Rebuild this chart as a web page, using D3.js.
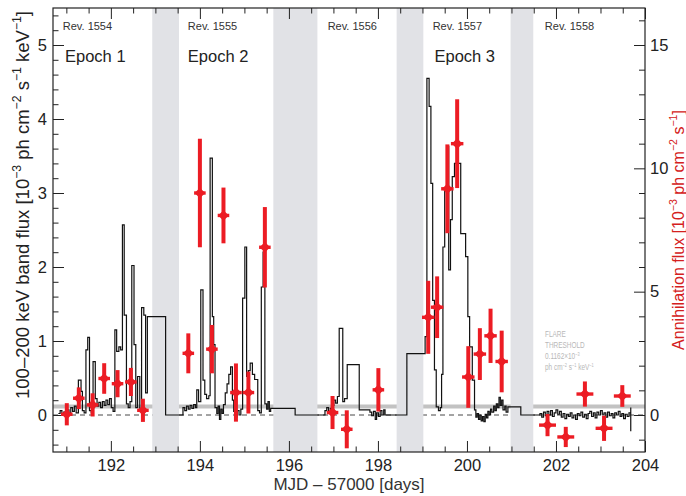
<!DOCTYPE html>
<html>
<head>
<meta charset="utf-8">
<script src="https://cdn.jsdelivr.net/npm/d3@7"></script>
<style>
  body { margin: 0; background: #fff; }
  svg { display: block; font-family: "Liberation Sans", Arial, sans-serif; }
</style>
</head>
<body>
<svg></svg>
<script>
const svgWidth = 686;
const svgHeight = 496;
const margin = {top: 8, right: 41, bottom: 44, left: 53};

// 100-200 keV light curve, [MJD-57000, flux in 1e-3 ph/cm2/s/keV], one array per revolution
const rev1554 = [
	[190.82, 0.02], [190.86, 0.06], [190.90, 0.01], [190.94, 0.04], [190.98, -0.01], [191.02, 0.07],
	[191.06, 0.03], [191.10, 0.10], [191.14, 0.05], [191.18, 0.12], [191.22, 0.03], [191.27, 0.47],
	[191.33, 0.32], [191.36, 0.06], [191.40, 0.03], [191.44, 0.88], [191.48, 1.05], [191.52, 0.06],
	[191.56, 0.03], [191.60, 0.72], [191.65, 0.22], [191.69, 0.12], [191.73, 0.17], [191.77, 0.10],
	[191.81, 0.18], [191.85, 0.13], [191.89, 0.20], [191.93, 0.14], [191.97, 0.22], [192.01, 0.10],
	[192.05, 0.05], [192.09, 1.15], [192.13, 0.86], [192.18, 0.92], [192.22, 0.88], [192.26, 2.57],
	[192.30, 1.35], [192.35, 0.15], [192.39, 0.10], [192.43, 0.18], [192.47, 2.02], [192.52, 0.95],
	[192.56, 0.10], [192.60, 0.52], [192.65, 0.06], [192.69, 1.45], [192.74, 1.35], [192.78, 0.30],
	[192.82, 1.33], [193.23, 0.0]
];
const rev1555 = [
	[193.62, 0.10], [193.66, 0.06], [193.70, 0.12], [193.74, 0.08], [193.78, 0.13], [193.82, 0.09],
	[193.86, 0.14], [193.90, 0.10], [193.93, 0.34], [193.97, 0.18], [194.02, 1.69], [194.07, 0.47],
	[194.11, 0.28], [194.15, 0.22], [194.20, 0.26], [194.23, 3.47], [194.28, 1.33], [194.31, 0.95],
	[194.34, 0.10], [194.38, 0.02], [194.41, 0.12], [194.44, -0.06], [194.47, 0.08], [194.50, 0.02],
	[194.53, 0.14], [194.57, 0.30], [194.61, 0.42], [194.65, 0.55], [194.69, 0.65], [194.73, 0.20],
	[194.76, 0.05], [194.80, -0.03], [194.84, 0.06], [194.88, 0.0], [194.92, 0.08], [194.96, 1.58],
	[195.01, 2.27], [195.05, 0.52], [195.09, 0.60], [195.13, 0.70], [195.18, 0.55], [195.23, 0.48],
	[195.30, 0.06], [195.34, 0.03], [195.38, 1.73], [195.42, 2.20], [195.46, 0.15], [195.50, 0.08],
	[195.53, 0.18], [195.56, 0.05], [195.59, 0.09], [196.14, 0.0]
];
const rev1556 = [
	[196.81, 0.06], [196.85, 0.10], [196.89, 0.04], [196.93, 0.09], [196.97, 0.13], [197.01, 0.20],
	[197.05, 0.16], [197.09, 0.25], [197.13, 1.17], [197.21, 0.18], [197.25, 0.22], [197.31, 0.68],
	[197.58, 0.07], [197.82, 0.04], [197.86, -0.01], [197.90, 0.05], [197.94, -0.06], [197.97, 0.03],
	[198.01, -0.02], [198.05, 0.06], [198.09, 0.0], [198.13, 0.07], [198.16, 0.0], [198.65, 0.83]
];
const rev1557 = [
	[199.06, 1.06], [199.10, 4.55], [199.15, 4.17], [199.19, 3.13], [199.23, 1.55], [199.27, 0.61],
	[199.31, 0.11], [199.36, 0.06], [199.40, 0.10], [199.43, 0.55], [199.46, 2.27], [199.50, 3.04],
	[199.55, 3.63], [199.59, 1.96], [199.63, 2.64], [199.67, 3.22], [199.72, 3.40], [199.86, 2.45],
	[199.97, 2.14], [200.02, 1.33], [200.06, 0.92], [200.12, 0.47], [200.17, 0.07], [200.20, -0.03],
	[200.23, 0.02], [200.26, -0.06], [200.29, 0.0], [200.32, -0.08], [200.35, -0.02], [200.38, -0.09],
	[200.41, 0.01], [200.44, -0.04], [200.47, 0.05], [200.50, 0.0], [200.53, 0.08], [200.56, 0.04],
	[200.60, 0.12], [200.63, 0.06], [200.66, 0.15], [200.69, 0.10], [200.72, 0.24], [200.75, 0.13],
	[200.78, 0.20], [200.81, 0.07], [200.85, 0.12], [200.88, 0.04], [200.92, 0.11], [201.21, 0.0]
];
const rev1558 = [
	[201.64, 0.02], [201.68, -0.03], [201.72, 0.04], [201.76, -0.01], [201.80, 0.05], [201.84, 0.0],
	[201.88, 0.06], [201.92, -0.02], [201.96, 0.03], [202.00, 0.07], [202.04, 0.01], [202.08, 0.05],
	[202.12, -0.03], [202.16, 0.02], [202.20, -0.05], [202.24, 0.01], [202.28, -0.02], [202.32, 0.03],
	[202.36, -0.04], [202.40, 0.0], [202.44, -0.06], [202.48, 0.02], [202.52, -0.01], [202.56, 0.04],
	[202.60, -0.03], [202.64, 0.01], [202.68, -0.05], [202.72, 0.02], [202.76, 0.05], [202.80, -0.02],
	[202.84, 0.03], [202.88, -0.04], [202.92, 0.04], [202.96, 0.0], [203.00, 0.06], [203.04, 0.01],
	[203.08, 0.03], [203.12, -0.03], [203.16, 0.04], [203.20, -0.01], [203.24, 0.02], [203.28, -0.04],
	[203.32, 0.03], [203.36, 0.0], [203.40, 0.05], [203.44, -0.02], [203.48, 0.02], [203.52, -0.05],
	[203.56, 0.01], [203.60, -0.02], [203.64, 0.03], [203.68, 0.10], [203.68, -0.22]
];

// annihilation line flux (right axis, 1e-3 ph/cm2/s)
const annDay     = [191.01, 191.28, 191.59, 191.85, 192.15, 192.45, 192.72, 193.74, 194.00, 194.27,
                    194.53, 194.81, 195.09, 195.46, 196.98, 197.30, 198.01, 199.13, 199.33, 199.56,
                    199.78, 200.03, 200.29, 200.53, 200.78, 201.81, 202.22, 202.65, 203.08, 203.49];
const annFlux    = [0.03, 0.68, 0.41, 1.48, 1.27, 1.34, 0.19, 2.50, 9.00, 2.67,
                    8.09, 0.91, 0.91, 6.80, 0.10, -0.58, 1.02, 3.96, 4.37, 9.17,
                    11.00, 1.54, 2.47, 3.21, 2.17, -0.41, -0.89, 0.85, -0.54, 0.77];
const annErr     = [0.45, 0.44, 0.47, 0.62, 0.55, 0.57, 0.47, 0.81, 2.20, 0.98,
                    1.13, 1.18, 0.85, 1.63, 0.67, 0.77, 0.88, 1.48, 1.25, 1.80,
                    1.80, 1.25, 1.05, 1.10, 1.25, 0.45, 0.41, 0.51, 0.51, 0.44];
const annDayErr  = [0.13, 0.13, 0.13, 0.13, 0.13, 0.13, 0.13, 0.13, 0.13, 0.13,
                    0.13, 0.13, 0.13, 0.13, 0.13, 0.13, 0.13, 0.14, 0.14, 0.14,
                    0.14, 0.14, 0.14, 0.14, 0.14, 0.19, 0.19, 0.19, 0.19, 0.19];

// perigee gaps between revolutions
const gapStart = [192.93, 195.65, 198.42, 200.98];
const gapEnd   = [193.53, 196.64, 199.02, 201.49];
const flareThreshold = 0.1162;

const revNames = ["Rev. 1554", "Rev. 1555", "Rev. 1556", "Rev. 1557", "Rev. 1558"];
const revDay = [190.92, 193.73, 196.87, 199.23, 201.75];
const epochNames = ["Epoch 1", "Epoch 2", "Epoch 3"];
const epochDay = [190.97, 193.73, 199.27];

const xTicks = [192, 194, 196, 198, 200, 202, 204];
const yLeftTicks = [0, 1, 2, 3, 4, 5];
const yRightTicks = [0, 5, 10, 15];

const svg = d3.select("svg")
	.attr("width", svgWidth)
	.attr("height", svgHeight);

const x0 = margin.left, x1 = svgWidth - margin.right;
const y0 = svgHeight - margin.bottom, y1 = margin.top;

const xScale = d3.scaleLinear().domain([190.7, 204]).range([x0, x1]);
const yScale = d3.scaleLinear().domain([-0.5, 5.5]).range([y0, y1]);
const yRight = d3.scaleLinear().domain([-1.5, 16.5]).range([y0, y1]);

const plot = svg.append("g");

// threshold band and zero line, under the gap shading
plot.append("line")
	.attr("x1", x0).attr("x2", x1)
	.attr("y1", yScale(flareThreshold)).attr("y2", yScale(flareThreshold))
	.attr("stroke", "#c2c2c2")
	.attr("stroke-width", 4);

plot.append("line")
	.attr("x1", x0).attr("x2", x1)
	.attr("y1", yScale(0)).attr("y2", yScale(0))
	.attr("stroke", "#333")
	.attr("stroke-width", 0.9)
	.attr("stroke-dasharray", "5,4");

plot.selectAll(".gap")
	.data(gapStart)
	.enter()
	.append("rect")
	.attr("x", d => xScale(d))
	.attr("width", (d, i) => xScale(gapEnd[i]) - xScale(d))
	.attr("y", y1)
	.attr("height", y0 - y1)
	.attr("fill", "#e1e2e6");

// axes
function axisGroup(axis, tx, ty) {
	let g = svg.append("g")
		.attr("transform", `translate(${tx}, ${ty})`)
		.call(axis);
	g.select(".domain").remove();
	g.selectAll("text")
		.attr("font-size", 16.5)
		.attr("font-family", "Liberation Sans, Arial, sans-serif")
		.attr("fill", "#222");
	return g;
}

const xMinor = d3.range(191, 204, 0.5).filter(v => v % 2 !== 0);
axisGroup(d3.axisBottom(xScale).tickValues(xTicks).tickFormat(d3.format("d")).tickSize(-11).tickPadding(7), 0, y0);
axisGroup(d3.axisBottom(xScale).tickValues(xMinor).tickFormat("").tickSize(-5.5), 0, y0);
axisGroup(d3.axisTop(xScale).tickValues(xTicks).tickFormat("").tickSize(-11), 0, y1);
axisGroup(d3.axisTop(xScale).tickValues(xMinor).tickFormat("").tickSize(-5.5), 0, y1);

const yMinor = d3.range(-0.4, 5.5, 0.2).filter(v => Math.abs(v - Math.round(v)) > 0.01);
axisGroup(d3.axisLeft(yScale).tickValues(yLeftTicks).tickFormat(d3.format("d")).tickSize(-11).tickPadding(6), x0, 0);
axisGroup(d3.axisLeft(yScale).tickValues(yMinor).tickFormat("").tickSize(-5.5), x0, 0);

const yRMinor = d3.range(-1, 17, 1).filter(v => v % 5 !== 0);
axisGroup(d3.axisRight(yRight).tickValues(yRightTicks).tickFormat(d3.format("d")).tickSize(-11).tickPadding(5), x1, 0);
axisGroup(d3.axisRight(yRight).tickValues(yRMinor).tickFormat("").tickSize(-6), x1, 0);

svg.selectAll("g.tick line").attr("stroke", "#222").attr("stroke-width", 1);

svg.append("rect")
	.attr("x", x0).attr("y", y1)
	.attr("width", x1 - x0).attr("height", y0 - y1)
	.attr("fill", "none")
	.attr("stroke", "#222")
	.attr("stroke-width", 1.2);

// light curve
const lightCurve = rev1554.concat(rev1555, rev1556, rev1557, rev1558);
const line = d3.line()
	.x(d => xScale(d[0]))
	.y(d => yScale(d[1]))
	.curve(d3.curveStepAfter);

svg.append("path")
	.datum(lightCurve)
	.attr("d", line)
	.attr("fill", "none")
	.attr("stroke", "#111")
	.attr("stroke-width", 1.2);

// annihilation points with error bars
const red = "#ec1c24";
const pts = svg.selectAll(".ann")
	.data(annDay)
	.enter()
	.append("g")
	.classed("ann", true);

pts.append("line")
	.attr("x1", d => xScale(d)).attr("x2", d => xScale(d))
	.attr("y1", (d, i) => yRight(annFlux[i] - annErr[i]))
	.attr("y2", (d, i) => yRight(annFlux[i] + annErr[i]))
	.attr("stroke", red)
	.attr("stroke-width", 4);

pts.append("line")
	.attr("x1", (d, i) => xScale(d - annDayErr[i]))
	.attr("x2", (d, i) => xScale(d + annDayErr[i]))
	.attr("y1", (d, i) => yRight(annFlux[i]))
	.attr("y2", (d, i) => yRight(annFlux[i]))
	.attr("stroke", red)
	.attr("stroke-width", 3.4);

pts.append("path")
	.attr("d", d3.symbol(d3.symbolSquare, 56))
	.attr("transform", (d, i) => `translate(${xScale(d)}, ${yRight(annFlux[i])}) rotate(45)`)
	.attr("fill", red);

// labels
svg.selectAll(".rev")
	.data(revNames)
	.enter()
	.append("text")
	.text(d => d)
	.attr("x", (d, i) => xScale(revDay[i]))
	.attr("y", 30)
	.attr("font-size", 11)
	.attr("fill", "#333");

svg.selectAll(".epoch")
	.data(epochNames)
	.enter()
	.append("text")
	.text(d => d)
	.attr("x", (d, i) => xScale(epochDay[i]))
	.attr("y", 62)
	.attr("font-size", 16.5)
	.attr("fill", "#222");

function richText(el, parts, size, supSize, rise) {
	let shift = 0;
	parts.forEach(p => {
		let sup = p.startsWith("^");
		let target = sup ? -size * rise : 0;
		el.append("tspan")
			.text(sup ? p.slice(1) : p)
			.attr("font-size", sup ? size * supSize : size)
			.attr("dy", target - shift);
		shift = target;
	});
}

const leftLabel = svg.append("text")
	.attr("transform", "translate(29, 205) rotate(-90)")
	.attr("text-anchor", "middle")
	.attr("fill", "#222");
richText(leftLabel, ["100–200 keV band flux [10", "^−3", " ph cm", "^−2", " s", "^−1", " keV", "^−1", "]"], 18.5, 0.66, 0.42);

const rightLabel = svg.append("text")
	.attr("transform", "translate(684, 230) rotate(-90)")
	.attr("text-anchor", "middle")
	.attr("fill", "#d42020");
richText(rightLabel, ["Annihilation flux [10", "^−3", " ph cm", "^−2", " s", "^−1", "]"], 16, 0.66, 0.42);

svg.append("text")
	.text("MJD – 57000 [days]")
	.attr("x", 349)
	.attr("y", 490)
	.attr("text-anchor", "middle")
	.attr("font-size", 17)
	.attr("fill", "#333");

// flare threshold note, narrow grey lettering
const noteLines = [["FLARE"], ["THRESHOLD"], ["0.1162×10", "^−3"], ["ph cm", "^−2", " s", "^−1", " keV", "^−1"]];
noteLines.forEach((parts, i) => {
	let t = svg.append("text")
		.attr("transform", `translate(545, ${337 + i * 11}) scale(0.68, 1)`)
		.attr("fill", "#b8b8b8");
	richText(t, parts, 9.5, 0.6, 0.3);
});
</script>
</body>
</html>
